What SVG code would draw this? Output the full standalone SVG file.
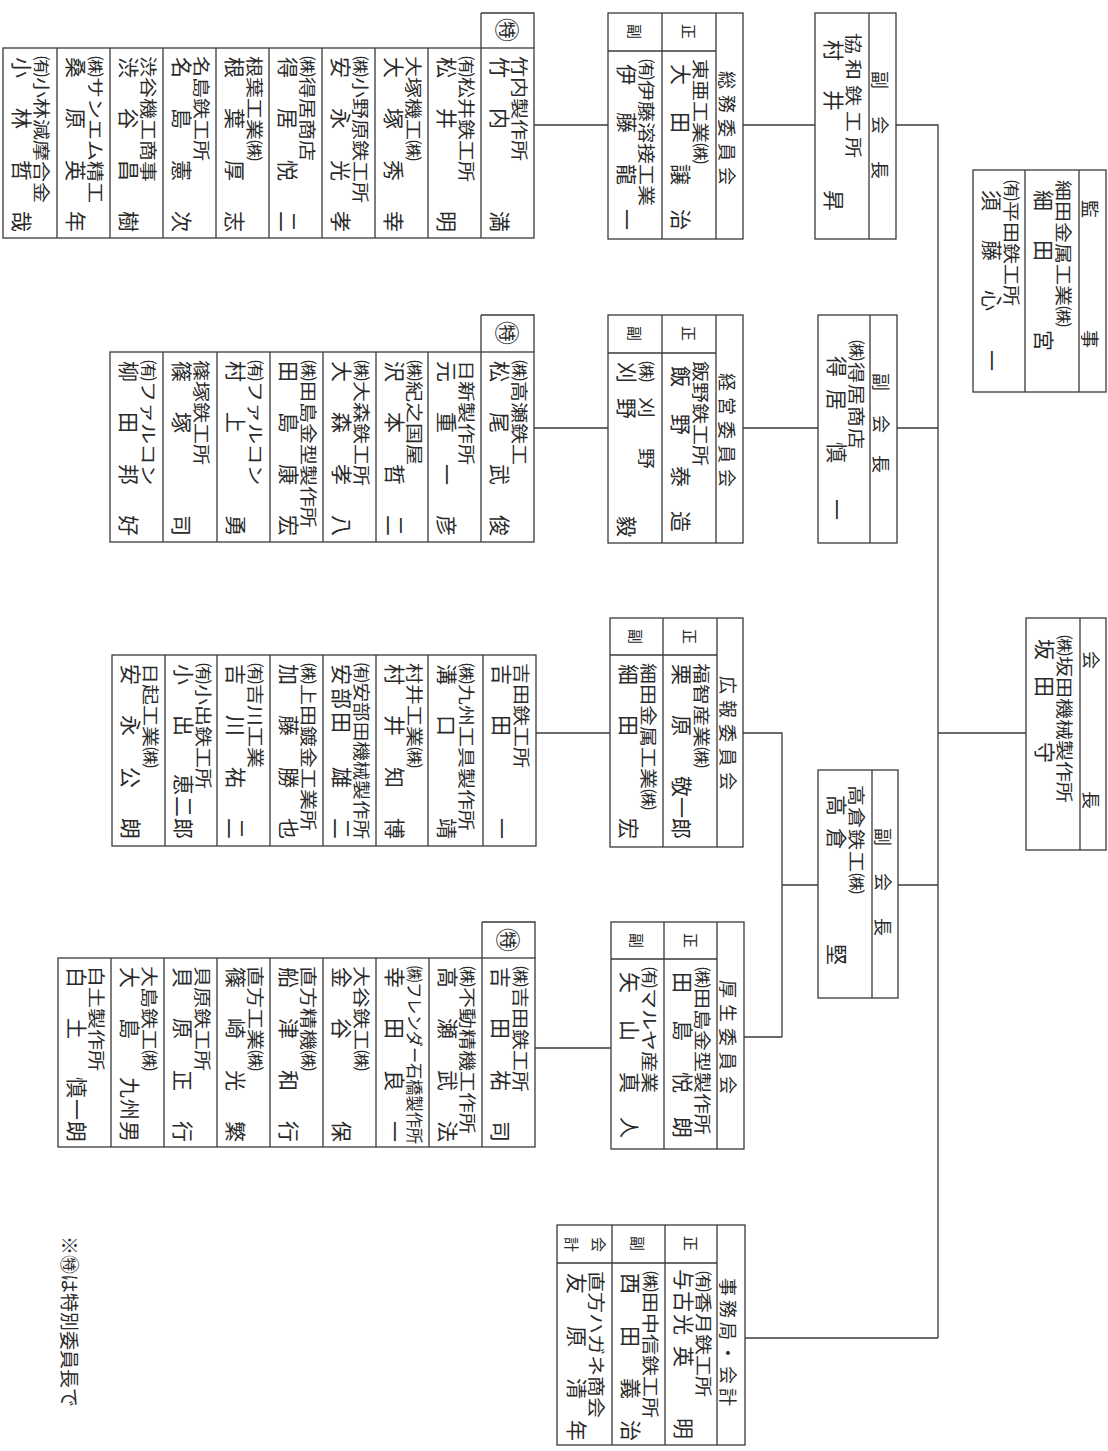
<svg xmlns="http://www.w3.org/2000/svg" width="1108" height="1451" viewBox="0 0 1108 1451">
<style>
.ln{stroke:#3a3a3a;stroke-width:1.3;fill:none}
.cn{stroke:#3a3a3a;stroke-width:1.3;fill:none}
text{font-family:"Noto Sans CJK JP","Noto Sans CJK SC",sans-serif;fill:#2a2a2a}
.c{font-size:21px}
.n{font-size:21px}
.h{font-size:18px}
.l{font-size:15px}
.s{font-size:24px}
</style>
<rect width="1108" height="1451" fill="#fff"/>

<g id="connectors" class="cn">
<path d="M534 125H608M743 125H815M896 125H938V1338"/>
<path d="M534 428H608M743 428H818M897 428H938"/>
<path d="M536 733H610M743 733H782V1037M938 733H1026"/>
<path d="M782 885H818M898 885H938"/>
<path d="M535 1048H611M744 1037H782"/>
<path d="M745 1338H938"/>
</g>

<g id="kansa">
<rect class="ln" x="973" y="170" width="133" height="222"/>
<path class="ln" d="M1079 170V392M1025 170V392"/>
<text class="h" transform="translate(1083,170) rotate(90)" x="30 160">監事</text>
<text class="c" transform="translate(1057,180) rotate(90) scale(1,.8)">細田金属工業㈱</text>
<text class="n" transform="translate(1036,170) rotate(90)" x="20 70 160">細田宮</text>
<text class="c" transform="translate(1005,180) rotate(90) scale(1,.8)">㈲平田鉄工所</text>
<text class="n" transform="translate(984,170) rotate(90)" x="20 70 120 180">須藤心一</text>
</g>

<g id="kaicho">
<rect class="ln" x="1026" y="618" width="80" height="232"/>
<path class="ln" d="M1080 618V850"/>
<text class="h" transform="translate(1084,618) rotate(90)" x="33 173">会長</text>
<text class="c" transform="translate(1058,635) rotate(90) scale(1,.8)">㈱坂田機械製作所</text>
<text class="n" transform="translate(1037,618) rotate(90)" x="21 58 124">坂田守</text>
</g>

<g id="fuku1">
<rect class="ln" x="815" y="13" width="81" height="226"/>
<path class="ln" d="M869 13V239"/>
<text class="h" transform="translate(873,13) rotate(90)" x="58 103 148">副会長</text>
<text class="c" transform="translate(847,13) rotate(90) scale(1,.8)" x="20 46 72 98 124">協和鉄工所</text>
<text class="n" transform="translate(826,13) rotate(90)" x="27 77 177">村井昇</text>
</g>

<g id="fuku2">
<rect class="ln" x="818" y="315" width="79" height="228"/>
<path class="ln" d="M870 315V543"/>
<text class="h" transform="translate(874,315) rotate(90)" x="58 100 140">副会長</text>
<text class="c" transform="translate(850,315) rotate(90) scale(1,.8)" x="25 47 69 91 113">㈱得居商店</text>
<text class="n" transform="translate(829,315) rotate(90)" x="41 74 127 184">得居慎一</text>
</g>

<g id="fuku3">
<rect class="ln" x="818" y="770" width="80" height="228"/>
<path class="ln" d="M872 770V998"/>
<text class="h" transform="translate(876,770) rotate(90)" x="58 103 148">副会長</text>
<text class="c" transform="translate(850,770) rotate(90) scale(1,.8)" x="15 37 59 81 103">高倉鉄工㈱</text>
<text class="n" transform="translate(829,770) rotate(90)" x="25 58 174">高倉堅</text>
</g>

<g id="soumu">
<rect class="ln" x="608" y="13" width="135" height="226"/>
<path class="ln" d="M716 13V239M662 13V239M608 51H716"/>
<text class="h" transform="translate(720,13) rotate(90)" x="58 82 106 130 154">総務委員会</text>
<text class="l" transform="translate(683,24) rotate(90)">正</text>
<text class="l" transform="translate(629,24) rotate(90)">副</text>
<text class="c" transform="translate(694,59) rotate(90) scale(1,.8)">東亜工業㈱</text>
<text class="n" transform="translate(673,51) rotate(90)" x="13 61 113 158">大田譲治</text>
<text class="c" transform="translate(640,59) rotate(90) scale(1,.8)">㈲伊藤溶接工業</text>
<text class="n" transform="translate(619,51) rotate(90)" x="13 61 113 158">伊藤龍一</text>
</g>

<g id="keiei">
<rect class="ln" x="608" y="315" width="135" height="228"/>
<path class="ln" d="M716 315V543M662 315V543M608 353H716"/>
<text class="h" transform="translate(720,315) rotate(90)" x="58 82 106 130 154">経営委員会</text>
<text class="l" transform="translate(683,326) rotate(90)">正</text>
<text class="l" transform="translate(629,326) rotate(90)">副</text>
<text class="c" transform="translate(694,361) rotate(90) scale(1,.8)">飯野鉄工所</text>
<text class="n" transform="translate(673,353) rotate(90)" x="13 61 113 158">飯野泰造</text>
<text class="c" transform="translate(640,361) rotate(90) scale(1,.8)" x="0 36 87">㈱刈野</text>
<text class="n" transform="translate(619,353) rotate(90)" x="9 45 163">刈野毅</text>
</g>

<g id="kouhou">
<rect class="ln" x="610" y="618" width="133" height="229"/>
<path class="ln" d="M717 618V847M663 618V847M610 655H717"/>
<text class="h" transform="translate(721,618) rotate(90)" x="58 82 106 130 154">広報委員会</text>
<text class="l" transform="translate(684,629) rotate(90)">正</text>
<text class="l" transform="translate(630,629) rotate(90)">副</text>
<text class="c" transform="translate(695,663) rotate(90) scale(1,.8)">福智産業㈱</text>
<text class="n" transform="translate(674,655) rotate(90)" x="9 60 121 142 163">栗原敬一郎</text>
<text class="c" transform="translate(642,663) rotate(90) scale(1,.8)">細田金属工業㈱</text>
<text class="n" transform="translate(621,655) rotate(90)" x="9 60 163">細田宏</text>
</g>

<g id="kousei">
<rect class="ln" x="611" y="922" width="133" height="227"/>
<path class="ln" d="M717 922V1149M664 922V1149M611 959H717"/>
<text class="h" transform="translate(721,922) rotate(90)" x="58 82 106 130 154">厚生委員会</text>
<text class="l" transform="translate(685,933) rotate(90)">正</text>
<text class="l" transform="translate(631,933) rotate(90)">副</text>
<text class="c" transform="translate(696,967) rotate(90) scale(1,.8)">㈱田島金型製作所</text>
<text class="n" transform="translate(675,959) rotate(90)" x="13 61 113 158">田島悦朗</text>
<text class="c" transform="translate(643,967) rotate(90) scale(1,.8)">㈲マルヤ産業</text>
<text class="n" transform="translate(622,959) rotate(90)" x="13 61 113 158">矢山真人</text>
</g>

<g id="jimukyoku">
<rect class="ln" x="557" y="1225" width="188" height="220"/>
<path class="ln" d="M717 1225V1445M665 1225V1445M612 1225V1445M557 1263H717"/>
<text class="h" transform="translate(721,1225) rotate(90)" x="53 75 97 119 141 163">事務局・会計</text>
<text class="l" transform="translate(685,1236) rotate(90)">正</text>
<text class="l" transform="translate(632,1236) rotate(90)">副</text>
<text class="l" transform="translate(593,1237) rotate(90)">会</text>
<text class="l" transform="translate(566,1237) rotate(90)">計</text>
<text class="c" transform="translate(697,1271) rotate(90) scale(1,.8)">㈲香月鉄工所</text>
<text class="n" transform="translate(676,1263) rotate(90)" x="6 28 51 83 155">与古光英明</text>
<text class="c" transform="translate(644,1271) rotate(90) scale(1,.8)">㈱田中信鉄工所</text>
<text class="n" transform="translate(623,1263) rotate(90)" x="10 63 115 157">西田義治</text>
<text class="c" transform="translate(590,1271) rotate(90) scale(1,.8)">直方ハガネ商会</text>
<text class="n" transform="translate(569,1263) rotate(90)" x="10 63 115 157">友原清年</text>
</g>

<g id="list-soumu">
<rect class="ln" x="3" y="48" width="531" height="190"/>
<path class="ln" d="M481 13H534V48M481 13V238M57 48V238M110 48V238M163 48V238M216 48V238M269 48V238M322 48V238M375 48V238M428 48V238"/>
<text class="s" transform="translate(498,18) rotate(90)">㊕</text>
<text class="c" transform="translate(513,56) rotate(90) scale(1,.8)">竹内製作所</text>
<text class="n" transform="translate(492,48) rotate(90)" x="9 60 163">竹内満</text>
<text class="c" transform="translate(460,56) rotate(90) scale(1,.8)">㈲松井鉄工所</text>
<text class="n" transform="translate(439,48) rotate(90)" x="9 60 163">松井明</text>
<text class="c" transform="translate(407,56) rotate(90) scale(1,.8)">大塚機工㈱</text>
<text class="n" transform="translate(386,48) rotate(90)" x="9 60 112 163">大塚秀幸</text>
<text class="c" transform="translate(354,56) rotate(90) scale(1,.8)">㈱小野原鉄工所</text>
<text class="n" transform="translate(333,48) rotate(90)" x="9 60 112 163">安永光孝</text>
<text class="c" transform="translate(301,56) rotate(90) scale(1,.8)">㈱得居商店</text>
<text class="n" transform="translate(280,48) rotate(90)" x="9 60 112 163">得居悦二</text>
<text class="c" transform="translate(248,56) rotate(90) scale(1,.8)">根葉工業㈱</text>
<text class="n" transform="translate(227,48) rotate(90)" x="9 60 112 163">根葉厚志</text>
<text class="c" transform="translate(195,56) rotate(90) scale(1,.8)">名島鉄工所</text>
<text class="n" transform="translate(174,48) rotate(90)" x="9 60 112 163">名島憲次</text>
<text class="c" transform="translate(142,56) rotate(90) scale(1,.8)">渋谷機工商事</text>
<text class="n" transform="translate(121,48) rotate(90)" x="9 60 112 163">渋谷昌樹</text>
<text class="c" transform="translate(89,56) rotate(90) scale(1,.8)">㈱サンエム精工</text>
<text class="n" transform="translate(68,48) rotate(90)" x="9 60 112 163">桑原英年</text>
<text class="c" transform="translate(35,56) rotate(90) scale(1,.8)">㈲小林減摩合金</text>
<text class="n" transform="translate(14,48) rotate(90)" x="9 60 112 163">小林哲哉</text>
</g>

<g id="list-keiei">
<rect class="ln" x="110" y="352" width="424" height="190"/>
<path class="ln" d="M481 315H534V352M481 315V542M163 352V542M217 352V542M270 352V542M323 352V542M376 352V542M428 352V542"/>
<text class="s" transform="translate(498,321) rotate(90)">㊕</text>
<text class="c" transform="translate(513,360) rotate(90) scale(1,.8)">㈱高瀬鉄工</text>
<text class="n" transform="translate(492,352) rotate(90)" x="9 60 112 163">松尾武俊</text>
<text class="c" transform="translate(460,360) rotate(90) scale(1,.8)">日新製作所</text>
<text class="n" transform="translate(439,352) rotate(90)" x="9 60 112 163">元重一彦</text>
<text class="c" transform="translate(408,360) rotate(90) scale(1,.8)">㈱紀之国屋</text>
<text class="n" transform="translate(387,352) rotate(90)" x="9 60 112 163">沢本哲二</text>
<text class="c" transform="translate(355,360) rotate(90) scale(1,.8)">㈱大森鉄工所</text>
<text class="n" transform="translate(334,352) rotate(90)" x="9 60 112 163">大森孝八</text>
<text class="c" transform="translate(302,360) rotate(90) scale(1,.8)">㈱田島金型製作所</text>
<text class="n" transform="translate(281,352) rotate(90)" x="9 60 112 163">田島康宏</text>
<text class="c" transform="translate(249,360) rotate(90) scale(1,.8)">㈲ファルコン</text>
<text class="n" transform="translate(228,352) rotate(90)" x="9 60 163">村上勇</text>
<text class="c" transform="translate(195,360) rotate(90) scale(1,.8)">篠塚鉄工所</text>
<text class="n" transform="translate(174,352) rotate(90)" x="9 60 163">篠塚司</text>
<text class="c" transform="translate(142,360) rotate(90) scale(1,.8)">㈲ファルコン</text>
<text class="n" transform="translate(121,352) rotate(90)" x="9 60 112 163">柳田邦好</text>
</g>

<g id="list-kouhou">
<rect class="ln" x="112" y="655" width="424" height="191"/>
<path class="ln" d="M165 655V846M217 655V846M270 655V846M323 655V846M376 655V846M428 655V846M483 655V846"/>
<text class="c" transform="translate(515,663) rotate(90) scale(1,.8)">吉田鉄工所</text>
<text class="n" transform="translate(494,655) rotate(90)" x="9 60 163">吉田一</text>
<text class="c" transform="translate(460,663) rotate(90) scale(1,.8)">㈱九州工具製作所</text>
<text class="n" transform="translate(439,655) rotate(90)" x="9 60 163">溝口靖</text>
<text class="c" transform="translate(408,663) rotate(90) scale(1,.8)">村井工業㈱</text>
<text class="n" transform="translate(387,655) rotate(90)" x="9 60 112 163">村井知博</text>
<text class="c" transform="translate(355,663) rotate(90) scale(1,.8)" textLength="176" lengthAdjust="spacingAndGlyphs">㈲安部田機械製作所</text>
<text class="n" transform="translate(334,655) rotate(90)" x="9 33 57 112 163">安部田雄二</text>
<text class="c" transform="translate(302,663) rotate(90) scale(1,.8)">㈱上田鍍金工業所</text>
<text class="n" transform="translate(281,655) rotate(90)" x="9 60 112 163">加藤勝也</text>
<text class="c" transform="translate(249,663) rotate(90) scale(1,.8)">㈲吉川工業</text>
<text class="n" transform="translate(228,655) rotate(90)" x="9 60 112 163">吉川祐二</text>
<text class="c" transform="translate(197,663) rotate(90) scale(1,.8)">㈲小出鉄工所</text>
<text class="n" transform="translate(176,655) rotate(90)" x="9 60 119 141 163">小出恵二郎</text>
<text class="c" transform="translate(144,663) rotate(90) scale(1,.8)">日起工業㈱</text>
<text class="n" transform="translate(123,655) rotate(90)" x="9 60 112 163">安永公朗</text>
</g>

<g id="list-kousei">
<rect class="ln" x="58" y="958" width="477" height="189"/>
<path class="ln" d="M482 922H535V958M482 922V1147M111 958V1147M164 958V1147M217 958V1147M270 958V1147M323 958V1147M376 958V1147M429 958V1147"/>
<text class="s" transform="translate(499,928) rotate(90)">㊕</text>
<text class="c" transform="translate(514,966) rotate(90) scale(1,.8)">㈱吉田鉄工所</text>
<text class="n" transform="translate(493,958) rotate(90)" x="9 60 112 163">吉田祐司</text>
<text class="c" transform="translate(461,966) rotate(90) scale(1,.8)">㈱不動精機工作所</text>
<text class="n" transform="translate(440,958) rotate(90)" x="9 60 112 163">高瀬武法</text>
<text class="c" transform="translate(408,966) rotate(90) scale(1,.8)" textLength="178" lengthAdjust="spacingAndGlyphs">㈱フレンダー石橋製作所</text>
<text class="n" transform="translate(387,958) rotate(90)" x="9 60 112 163">幸田良一</text>
<text class="c" transform="translate(355,966) rotate(90) scale(1,.8)">大谷鉄工㈱</text>
<text class="n" transform="translate(334,958) rotate(90)" x="9 60 163">金谷保</text>
<text class="c" transform="translate(302,966) rotate(90) scale(1,.8)">直方精機㈱</text>
<text class="n" transform="translate(281,958) rotate(90)" x="9 60 112 163">船津和行</text>
<text class="c" transform="translate(249,966) rotate(90) scale(1,.8)">直方工業㈱</text>
<text class="n" transform="translate(228,958) rotate(90)" x="9 60 112 163">篠崎光繁</text>
<text class="c" transform="translate(196,966) rotate(90) scale(1,.8)">貝原鉄工所</text>
<text class="n" transform="translate(175,958) rotate(90)" x="9 60 112 163">貝原正行</text>
<text class="c" transform="translate(143,966) rotate(90) scale(1,.8)">大島鉄工㈱</text>
<text class="n" transform="translate(122,958) rotate(90)" x="9 60 119 141 163">大島九州男</text>
<text class="c" transform="translate(90,966) rotate(90) scale(1,.8)">白土製作所</text>
<text class="n" transform="translate(69,958) rotate(90)" x="9 60 119 141 163">白土慎一朗</text>
</g>

<g id="note">
<text class="n" transform="translate(62,1236) rotate(90)" style="font-size:19px">※㊕は特別委員長で</text>
</g>
</svg>
